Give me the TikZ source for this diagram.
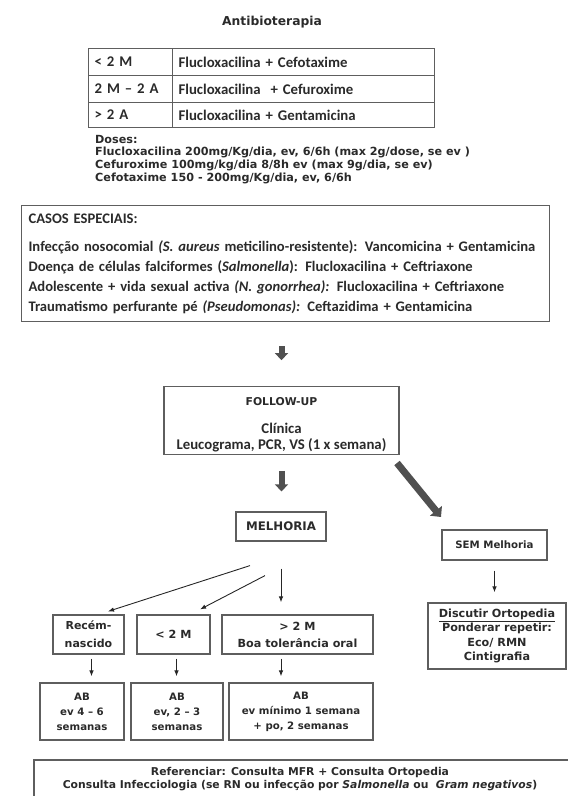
\documentclass[tikz,border=0pt]{standalone}
\usepackage{fontspec}
\setmainfont{Carlito}
\newfontfamily\verd{DejaVu Sans}
\usetikzlibrary{arrows.meta}
\definecolor{ink}{HTML}{2A2A2A}
\definecolor{rule}{HTML}{5E5E5E}
\definecolor{fatgray}{HTML}{505050}

\begin{document}
\begin{tikzpicture}[x=1pt,y=-1pt,
        every node/.style={text=ink},
        cell/.style={draw=rule, line width=1.2pt, anchor=north west, inner sep=6pt, align=left, font=\bfseries\fontsize{14.8}{16}\selectfont},
        box/.style={draw=rule, line width=1.2pt, inner sep=2pt, align=center, font=\verd\bfseries\fontsize{11.2}{15}\selectfont},
        abbox/.style={box, font=\verd\bfseries\fontsize{10.2}{15}\selectfont},
        thinarrow/.style={-{Latex[length=6pt,width=4.5pt]}, line width=0.9pt, draw=black!85},
        fatarrow/.style={-{Triangle[length=7pt,width=13pt]}, line width=6pt, draw=fatgray}]
        \useasboundingbox (0,0) rectangle (568,796);

                \node[font=\verd\bfseries\fontsize{12.3}{14}\selectfont] (title) at (272,22) {Antibioterapia};

                \node[cell, text width=72pt, minimum height=27pt] (r1a) at (88,48) {< 2 M};
                \node[cell, text width=250pt, minimum height=27pt] (r1b) at (172,48) {Flucloxacilina + Cefotaxime};
                \node[cell, text width=72pt, minimum height=27pt] (r2a) at (88,75) {2 M – 2 A};
                \node[cell, text width=250pt, minimum height=27pt] (r2b) at (172,75) {Flucloxacilina \ + Cefuroxime};
                \node[cell, text width=72pt, minimum height=25pt] (r3a) at (88,102) {> 2 A};
                \node[cell, text width=250pt, minimum height=25pt] (r3b) at (172,102) {Flucloxacilina + Gentamicina};

                \node[anchor=north west, align=left, inner sep=0pt, font=\verd\bfseries\fontsize{11.2}{12.6}\selectfont] (doses) at (95,135) {Doses:\\
                    Flucloxacilina 200mg/Kg/dia, ev, 6/6h (max 2g/dose, se ev )\\
                    Cefuroxime 100mg/kg/dia 8/8h ev (max 9g/dia, se ev)\\
                    Cefotaxime 150 - 200mg/Kg/dia, ev, 6/6h};

                \node[draw=rule, line width=1.2pt, anchor=north west, minimum width=528pt, minimum height=116pt, text width=514pt, inner sep=7pt, align=left, font=\bfseries\fontsize{14.6}{20}\selectfont] (casos) at (21,205) {CASOS ESPECIAIS:\\[8pt]
                    Infecção nosocomial \textit{(S. aureus} meticilino-resistente): Vancomicina + Gentamicina\\
                    Doença de células falciformes (\textit{Salmonella}): Flucloxacilina + Ceftriaxone\\
                    Adolescente + vida sexual activa \textit{(N. gonorrhea):} Flucloxacilina + Ceftriaxone\\
                    Traumatismo perfurante pé \textit{(Pseudomonas):} Ceftazidima + Gentamicina};

                \node[box, minimum width=235pt, minimum height=63pt, font=\bfseries\fontsize{14.8}{16}\selectfont] (follow) at (281.5,420.5) {\rule{0pt}{17pt}{\verd\fontsize{10.8}{12}\selectfont FOLLOW-UP}\\[12pt] Clínica\\ Leucograma, PCR, VS (1 x semana)};
                \node[box, minimum width=90pt, minimum height=29pt, font=\verd\bfseries\fontsize{11.8}{14}\selectfont] (melhoria) at (281,526.5) {MELHORIA};
                \node[box, minimum width=105pt, minimum height=30pt, font=\verd\bfseries\fontsize{10.2}{14}\selectfont] (sem) at (494.5,545) {SEM Melhoria};
                \node[box, minimum width=138pt, minimum height=66pt, font=\verd\bfseries\fontsize{11.2}{14.5}\selectfont] (discutir) at (497,636) {\underline{Discutir Ortopedia}\\ Ponderar repetir:\\ Eco/ RMN\\ Cintigrafia};

                \node[box, minimum width=71pt, minimum height=39pt, font=\verd\bfseries\fontsize{11}{18}\selectfont] (recem) at (88.5,634.5) {Recém-\\nascido};
                \node[box, minimum width=73pt, minimum height=39pt] (lt2m) at (173.5,634.5) {< 2 M};
                \node[box, minimum width=151pt, minimum height=39pt, font=\verd\bfseries\fontsize{11.2}{17}\selectfont] (gt2m) at (297.5,634.5) {> 2 M\\ Boa tolerância oral};

                \node[abbox, minimum width=84pt, minimum height=57pt] (ab1) at (82,711.5) {AB\\ ev 4 – 6\\ semanas};
                \node[abbox, minimum width=92pt, minimum height=57pt] (ab2) at (177,711.5) {AB\\ ev, 2 – 3\\ semanas};
                \node[abbox, minimum width=144pt, minimum height=57pt] (ab3) at (301,711.5) {AB\\ ev mínimo 1 semana\\ + po, 2 semanas};

                \node[align=center, inner sep=0pt, font=\verd\bfseries\fontsize{10.8}{12.5}\selectfont] (refer) at (300,779) {Referenciar: Consulta MFR + Consulta Ortopedia\\ Consulta Infecciologia (se RN ou infecção por \textit{Salmonella} ou \ \textit{Gram negativos})};
                \draw[draw=rule, line width=1.2pt] (34,760) rectangle (600,830);

                \coordinate (diagfrom) at (397,463);
                \coordinate (diagto) at (441,517);

                \draw[fatarrow, shorten <=24pt, shorten >=26pt] (casos.south -| follow.north) to (follow.north);
                \draw[fatarrow, shorten <=16pt, shorten >=20pt] (follow.south) to (follow.south |- melhoria.north);
                \draw[fatarrow, line width=7pt, -{Triangle[length=8pt,width=15pt]}] (diagfrom) to (diagto);

                \draw[thinarrow] ([xshift=-31pt,yshift=-24pt]melhoria.south) to ([xshift=19.5pt,yshift=3pt]recem.north);
                \draw[thinarrow] ([xshift=-16pt,yshift=-34pt]melhoria.south) to ([xshift=26.5pt,yshift=5pt]lt2m.north);
                \draw[thinarrow, shorten <=27pt, shorten >=12pt] (melhoria.south) to (melhoria.south |- gt2m.north);
                \draw[thinarrow, shorten <=10pt, shorten >=10pt] (sem.south) to (sem.south |- discutir.north);

                \draw[thinarrow, shorten <=4pt, shorten >=6pt] ([xshift=3pt]recem.south) to ([xshift=3pt]recem.south |- ab1.north);
                \draw[thinarrow, shorten <=4pt, shorten >=6pt] ([xshift=3pt]lt2m.south) to ([xshift=3pt]lt2m.south |- ab2.north);
                \draw[thinarrow, shorten <=4pt, shorten >=6pt] (melhoria.south |- gt2m.south) to (melhoria.south |- ab3.north);
\end{tikzpicture}
\end{document}
